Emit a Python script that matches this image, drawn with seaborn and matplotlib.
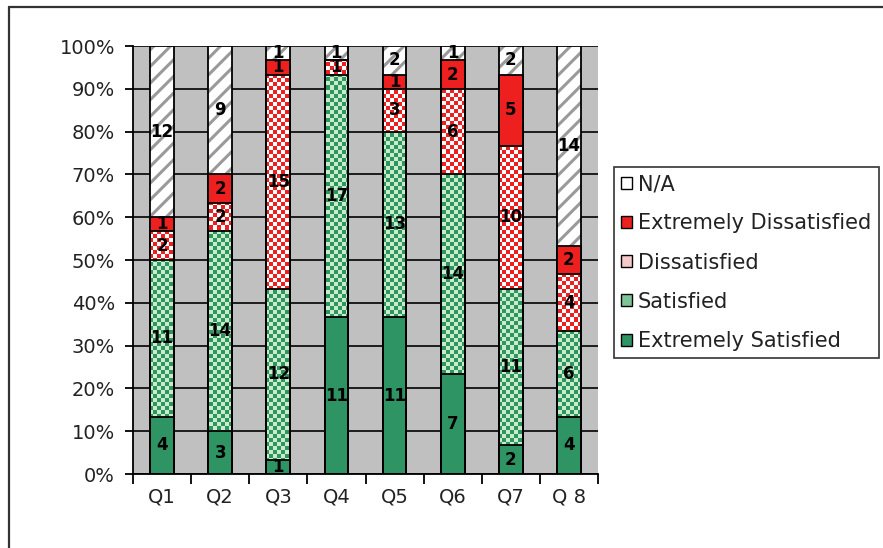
import numpy as np
import pandas as pd
import matplotlib
matplotlib.use("Agg")
import matplotlib.pyplot as plt
import matplotlib.colors as mcolors
import seaborn as sns
from matplotlib.patches import Patch, Rectangle
from matplotlib.lines import Line2D

# Survey responses per question (counts)
categories = ["Q1", "Q2", "Q3", "Q4", "Q5", "Q6", "Q7", "Q 8"]
extremely_satisfied = [4, 3, 1, 11, 11, 7, 2, 4]
satisfied = [11, 14, 12, 17, 13, 14, 11, 6]
dissatisfied = [2, 2, 15, 1, 3, 6, 10, 4]
extremely_dissatisfied = [1, 2, 1, 0, 1, 2, 5, 2]
not_applicable = [12, 9, 1, 1, 2, 1, 2, 14]

series_names = ["Extremely Satisfied", "Satisfied", "Dissatisfied",
                "Extremely Dissatisfied", "N/A"]
y_ticks = [0, 10, 20, 30, 40, 50, 60, 70, 80, 90, 100]

sns.set_theme(style="white")
plt.rcParams["font.family"] = ["DejaVu Sans"]
plt.rcParams["hatch.linewidth"] = 2.2

GREEN = "#2F9464"
LIGHT_GREEN = "#C9EDC6"
RED = "#EE1F1F"
STRIPE = "#9A9A9A"
BAR_W = 0.41
AXIS_FS = 14

fig = plt.figure(figsize=(8.83, 5.48), dpi=100)
ax = fig.add_axes([133 / 883, 74 / 548, 465 / 883, 428 / 548])
ax.set_facecolor("#C0C0C0")

counts = np.array([extremely_satisfied, satisfied, dissatisfied,
                   extremely_dissatisfied, not_applicable], dtype=float)
pct = counts / counts.sum(axis=0) * 100
tops = np.cumsum(pct, axis=0)
bottoms = tops - pct

# base fill of each layer (cumulative height, lower layers drawn on top)
fill_style = [
    dict(color=GREEN),
    dict(color=GREEN),
    dict(color=RED),
    dict(color=RED),
    dict(color="white", edgecolor=STRIPE, hatch="//"),
]
containers = {}
for k in reversed(range(5)):
    df = pd.DataFrame({"question": categories, "share": tops[k]})
    st = dict(fill_style[k])
    color = st.pop("color")
    sns.barplot(data=df, x="question", y="share", order=categories,
                color=color, saturation=1, width=BAR_W, errorbar=None,
                linewidth=0, zorder=2 + 0.1 * (4 - k), ax=ax, **st)
    containers[k] = ax.containers[-1]

# checkerboard texture for the two middle categories (~4 px cells)
ny, nx = 107, 116
yy, xx = np.mgrid[0:ny, 0:nx]
checker = ((xx + yy) % 2 == 0)[..., None]
for k, (c1, c2) in {1: (GREEN, LIGHT_GREEN), 2: (RED, "white")}.items():
    img = np.where(checker, np.array(mcolors.to_rgb(c1)),
                   np.array(mcolors.to_rgb(c2)))
    for i, bar in enumerate(containers[k]):
        if counts[k][i] == 0:
            continue
        seg = Rectangle((bar.get_x(), bottoms[k][i]), bar.get_width(),
                        pct[k][i], transform=ax.transData)
        im = ax.imshow(img, extent=(-0.5, 7.5, 0, 100), origin="lower",
                       interpolation="nearest", aspect="auto", zorder=3)
        im.set_clip_path(seg)

# segment outlines
for k in range(5):
    df = pd.DataFrame({"question": categories, "share": tops[k]})
    sns.barplot(data=df, x="question", y="share", order=categories,
                fill=False, color="black", width=BAR_W, errorbar=None,
                linewidth=1.3, zorder=4, ax=ax)

# count labels centred in each segment
for k in range(5):
    for i in range(len(categories)):
        if counts[k][i] > 0:
            ax.text(i, bottoms[k][i] + pct[k][i] / 2, f"{int(counts[k][i])}",
                    ha="center", va="center", fontsize=12,
                    fontweight="bold", color="black", zorder=5)

ax.set_xlim(-0.5, 7.5)
ax.set_ylim(0, 100)
ax.set_xlabel("")
ax.set_ylabel("")
ax.set_yticks(y_ticks)
ax.set_yticklabels([f"{v}%" for v in y_ticks])
ax.set_xticks(range(len(categories)))
ax.set_xticklabels(categories)
ax.set_xticks(np.arange(-0.5, len(categories), 1), minor=True)
ax.yaxis.grid(True, color="black", linewidth=1.2)
ax.xaxis.grid(False)
ax.set_axisbelow(True)
ax.tick_params(axis="y", which="major", left=True, direction="out",
               length=6, width=1.3, color="black", pad=7,
               labelsize=AXIS_FS, labelcolor="#222222")
ax.tick_params(axis="x", which="major", bottom=True, length=0, pad=10,
               labelsize=AXIS_FS, labelcolor="#222222")
ax.tick_params(axis="x", which="minor", bottom=True, direction="out",
               length=7, width=1.3, color="black")
for side in ("top", "right"):
    ax.spines[side].set_visible(False)
for side in ("left", "bottom"):
    ax.spines[side].set_color("black")
    ax.spines[side].set_linewidth(1.3)
    ax.spines[side].set_zorder(6)

# legend
handles = [
    Patch(facecolor="white", edgecolor="black", label="N/A"),
    Patch(facecolor=RED, edgecolor="black", label="Extremely Dissatisfied"),
    Patch(facecolor="#F7C8C8", edgecolor="black", label="Dissatisfied"),
    Patch(facecolor="#7DC496", edgecolor="black", label="Satisfied"),
    Patch(facecolor=GREEN, edgecolor="black", label="Extremely Satisfied"),
]
leg = fig.legend(handles=handles, loc="upper left",
                 bbox_to_anchor=(614 / 883, 1 - 167 / 548),
                 bbox_transform=fig.transFigure, borderaxespad=0,
                 fontsize=15, frameon=True, fancybox=False,
                 handlelength=0.5, handleheight=0.5, handletextpad=0.3,
                 labelspacing=0.92, borderpad=0.35)
leg.get_frame().set_edgecolor("black")
leg.get_frame().set_linewidth(1.2)
for t in leg.get_texts():
    t.set_color("#222222")

# chart border
fig.add_artist(Line2D([8.5 / 883, 8.5 / 883], [0, 1 - 7 / 548],
                      transform=fig.transFigure, color="#333333", lw=1.6))
fig.add_artist(Line2D([8.5 / 883, 1], [1 - 7 / 548, 1 - 7 / 548],
                      transform=fig.transFigure, color="#333333", lw=1.6))

fig.savefig("out.png", dpi=100, facecolor="white")
